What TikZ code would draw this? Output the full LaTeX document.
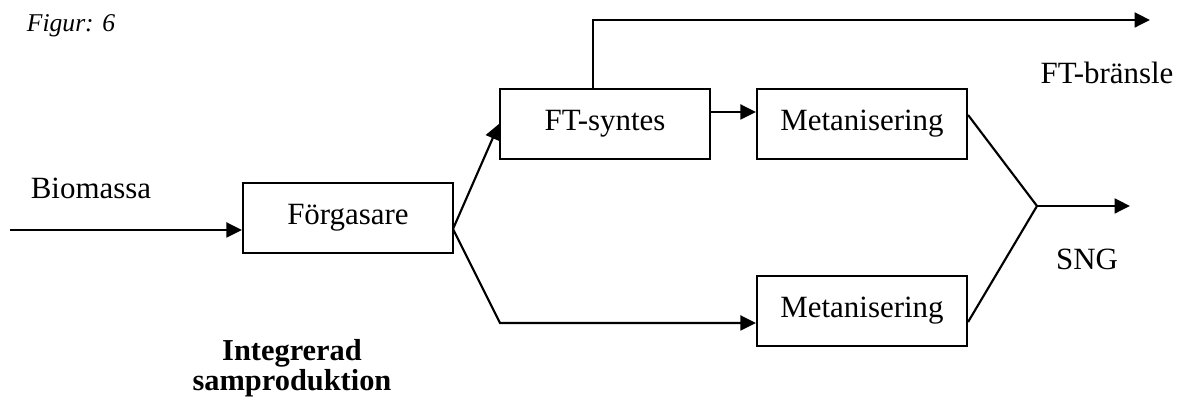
\documentclass[tikz,border=0pt]{standalone}
\usepackage{fontspec}
\setmainfont{Liberation Serif}
\usetikzlibrary{positioning, calc, arrows.meta}

\begin{document}
\begin{tikzpicture}[x=0.375pt, y=-0.375pt, font=\fontsize{11.6pt}{14pt}\selectfont,
	box/.style={draw, line width=0.8pt, minimum width=78.75pt, minimum height=26.25pt, inner sep=0pt},
	flow/.style={-{Triangle[length=5.8pt, width=5.6pt]}, line width=0.8pt},
	line/.style={line width=0.8pt}]

	\useasboundingbox (0,0) rectangle (1191,407);

	\foreach \name/\position/\text in {gas/{(348,218)}/Förgasare, ft/{(605,124)}/FT-syntes, met1/{(862,124)}/Metanisering, met2/{(862,311)}/Metanisering}
	{
		\node[box] (\name) at \position {\text};
	}

	\node[font=\fontsize{9.6pt}{12pt}\selectfont\itshape] (fig) at (71,26) {Figur: 6};
	\node (bio) at (91,188) {Biomassa};
	\node (ftfuel) at (1107,73) {FT-bränsle};
	\node (sng) at (1087,259) {SNG};
	\node[align=center, font=\fontsize{11.4pt}{10.2pt}\selectfont\bfseries] (integ) at (292,368) {Integrerad\\samproduktion};

	\coordinate (src) at (10,230);
	\coordinate (split) at (453,229);
	\coordinate (low) at (500,323);
	\coordinate (ftout) at (593,89);
	\coordinate (ftend) at (1150,20);
	\coordinate (join) at (1037,206);
	\coordinate (sngend) at (1130,206);

	\draw[flow] (src) -- (src -| gas.west);
	\draw[flow] (split) -- (ft.west);
	\draw[flow] (split) -- (low) -- (low -| met2.west);
	\draw[flow] (ftout) |- (ftend);
	\draw[flow] (ft.east |- 0,112) -- (met1.west |- 0,112);
	\draw[line] (met1.east |- 0,115) -- (join) -- (met2.east |- 0,322);
	\draw[flow] (join) -- (sngend);

\end{tikzpicture}
\end{document}
